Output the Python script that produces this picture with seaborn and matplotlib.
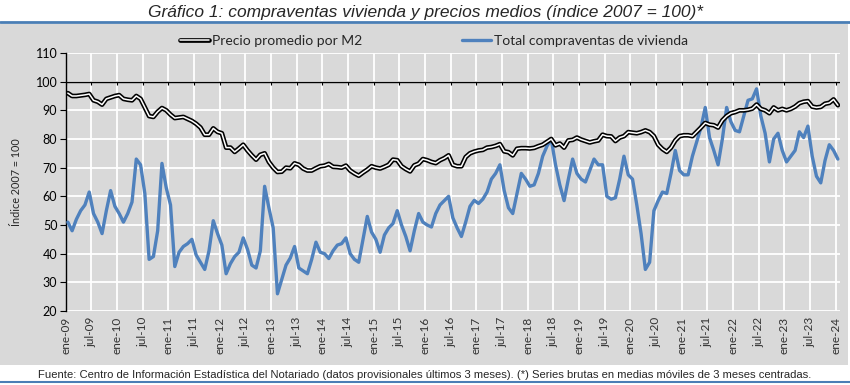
import pandas as pd
import numpy as np
import matplotlib
matplotlib.use("Agg")
import matplotlib.pyplot as plt
import matplotlib.patheffects as pe
from matplotlib.patches import Rectangle
from matplotlib.lines import Line2D
import seaborn as sns

# Monthly series, ene-09 .. ene-24 (indice 2007 = 100)
precio = [
    96, 95, 95, 95.2, 95.4, 95.7, 93.5, 93, 92, 94, 94.5, 95,            # 2009
    95.3, 94, 93.7, 93.5, 95, 94, 91, 88, 87.7, 89.5, 90.8, 90,          # 2010
    88.5, 87.3, 87.5, 87.7, 87, 86.3, 85.3, 84, 81.5, 81.5, 83.7, 82.5,  # 2011
    82, 77, 77, 75.5, 76.7, 78, 76, 74.3, 72.8, 74.5, 75, 72,            # 2012
    70, 68.5, 68.6, 70, 69.8, 71.5, 71, 69.7, 69, 69, 69.8, 70.5,        # 2013
    70.7, 71.3, 70.3, 70.2, 70, 70.7, 69, 68, 67.2, 68.3, 69.3, 70.5,    # 2014
    70, 69.7, 70.3, 71, 72.8, 72.6, 70.5, 69.5, 68.7, 70.8, 71.4, 73,    # 2015
    72.6, 72, 71.6, 72.6, 73.3, 74.3, 71, 70.5, 70.5, 73.7, 75, 75.6,    # 2016
    76, 76.2, 77, 77.2, 77.6, 78.2, 75.7, 75.4, 74.3, 76.6, 76.8, 76.8,  # 2017
    76.7, 76.9, 77.5, 78, 79, 80, 77.8, 78.4, 77, 79.5, 79.7, 80.5,      # 2018
    79.8, 79.3, 78.8, 79.2, 79.5, 81.5, 81, 80.9, 79.3, 80.5, 81, 82.4,  # 2019
    82.2, 82, 82.4, 83, 82.4, 81, 78, 76.5, 75.5, 77, 79.5, 81,          # 2020
    81.3, 81.3, 81, 82.5, 84, 85.6, 85, 84.8, 84, 86.5, 88, 89,          # 2021
    89.4, 90, 90, 90.2, 90.6, 92, 90.5, 90, 89, 91, 90, 90.5,            # 2022
    90, 90.5, 91.3, 92.5, 93, 93.2, 91.3, 91, 91.2, 92.3, 92.6, 93.8,    # 2023
    91.8,                                                                # 2024
]

ventas = [
    51, 48, 52, 55, 57, 61.5, 54, 51, 47, 55, 62, 56.5,                  # 2009
    54, 51, 54, 58, 73, 71, 61, 38, 39, 48, 71.5, 63,                    # 2010
    57, 35.5, 40.5, 42.5, 43.5, 45, 39.5, 37, 34.5, 41, 51.5, 47,        # 2011
    43, 33, 36.5, 39, 40.5, 45.5, 41.5, 36, 35, 41, 63.5, 56,            # 2012
    49, 26, 31, 36, 38.5, 42.5, 35, 34, 33, 38, 44, 40.5,                # 2013
    40, 38.3, 41, 43, 43.5, 45.5, 40, 38, 37, 45, 53, 47.5,              # 2014
    45, 40.5, 46.5, 49, 50.5, 55, 50, 46, 41, 48, 54, 51,                # 2015
    50, 49.3, 54, 57, 58.5, 60, 52.5, 49, 46, 51, 56.5, 58.6,            # 2016
    57.5, 59, 61.5, 66, 68, 71, 62, 56, 54, 61, 68, 66,                  # 2017
    63.5, 64, 68, 74, 77.5, 80, 71, 64, 58.5, 66, 73, 68,                # 2018
    66, 65, 69, 73, 71, 71, 60, 59, 59.5, 66, 74, 67.5,                  # 2019
    66, 57, 47, 34.5, 37, 55, 58.5, 61.5, 61, 68, 76, 69,                # 2020
    67.5, 67.5, 74, 79, 84, 91, 80.5, 76, 71, 80, 91, 86,                # 2021
    83, 82.5, 88, 93.5, 94, 97.5, 88, 82, 72, 80, 82, 76,                # 2022
    72, 74, 76, 82.5, 80.5, 84.5, 74, 67, 64.7, 72.5, 78, 76,            # 2023
    73,                                                                  # 2024
]

tick_labels = [f"{mes}-{yy:02d}" for yy in range(9, 25) for mes in ["ene", "jul"]][:-1]

df = pd.DataFrame({
    "mes": np.arange(len(precio)),
    "Precio promedio por M2": precio,
    "Total compraventas de vivienda": ventas,
})

sns.set_style("whitegrid", {
    "axes.facecolor": "#d9d9d9",
    "grid.color": "white",
    "axes.edgecolor": "black",
})
plt.rcParams["font.family"] = ["Lato", "DejaVu Sans"]

fig = plt.figure(figsize=(8.5, 3.85), dpi=100)
fig.patch.set_facecolor("white")

# gray panel and blue rules
fig.patches.append(Rectangle((0, 1 - 365 / 385), 848 / 850, (365 - 24) / 385,
                             transform=fig.transFigure, facecolor="#d9d9d9",
                             edgecolor="none", zorder=-5))
fig.add_artist(Line2D([0, 1], [1 - 22 / 385] * 2, color="#4a7eb5", lw=2,
                      transform=fig.transFigure))
fig.add_artist(Line2D([0, 1], [1 - 382 / 385] * 2, color="#4a7eb5", lw=1.5,
                      transform=fig.transFigure))

ax = fig.add_axes([65.7 / 850, 1 - 311 / 385, (840 - 65.7) / 850, (311 - 53) / 385])
ax.set_zorder(2)

sns.lineplot(data=df, x="mes", y="Total compraventas de vivienda", ax=ax,
             color="#4f81bd", lw=2.4, label="Total compraventas de vivienda", zorder=3)
sns.lineplot(data=df, x="mes", y="Precio promedio por M2", ax=ax,
             color="white", lw=1.1, label="Precio promedio por M2", zorder=4,
             path_effects=[pe.Stroke(linewidth=3.4, foreground="black"), pe.Normal()])

grid_x = np.arange(0, len(precio), 6) - 0.5
ax.set_xlim(-0.5, len(precio) - 0.5)
ax.set_ylim(20, 110)
ax.set_yticks(range(20, 111, 10))
ax.set_xticks(grid_x)
ax.set_xticklabels(tick_labels, rotation=90, fontsize=8.5, color="#333333")
ax.tick_params(axis="x", length=0, pad=4)
ax.tick_params(axis="y", left=True, length=4, width=0.8, direction="out",
               labelsize=9, colors="black", pad=2)
ax.grid(True, color="white", lw=1.3)

# category axis crossing at 100
ax.axhline(100, color="black", lw=1, zorder=2)
ax.vlines(grid_x, 98.9, 100, color="black", lw=0.8, zorder=2)

for s in ["top", "right", "bottom"]:
    ax.spines[s].set_visible(False)
ax.spines["left"].set_linewidth(1)
ax.set_xlabel("")
ax.set_ylabel("Índice 2007 = 100", fontsize=7.8, labelpad=10)

handles, labels = ax.get_legend_handles_labels()
ax.legend_.remove()
fig.legend(handles[::-1], labels[::-1], loc="center", bbox_to_anchor=(0.5106, 1 - 41 / 385),
           ncol=2, frameon=False, fontsize=10, columnspacing=7.2, handlelength=2.1,
           handletextpad=0.2)

fig.text(0.5, 1 - 12 / 385, "Gráfico 1: compraventas vivienda y precios medios (índice 2007 = 100)*",
         ha="center", va="center", fontsize=12.5, style="italic",
         family=["Liberation Sans", "DejaVu Sans"])
fig.text(38 / 850, 1 - 375 / 385,
         "Fuente: Centro de Información Estadística del Notariado (datos provisionales últimos 3 meses). "
         "(*) Series brutas en medias móviles de 3 meses centradas.",
         ha="left", va="center", fontsize=8.1,
         family=["Liberation Sans", "DejaVu Sans"])

fig.savefig("out.png", dpi=100)
